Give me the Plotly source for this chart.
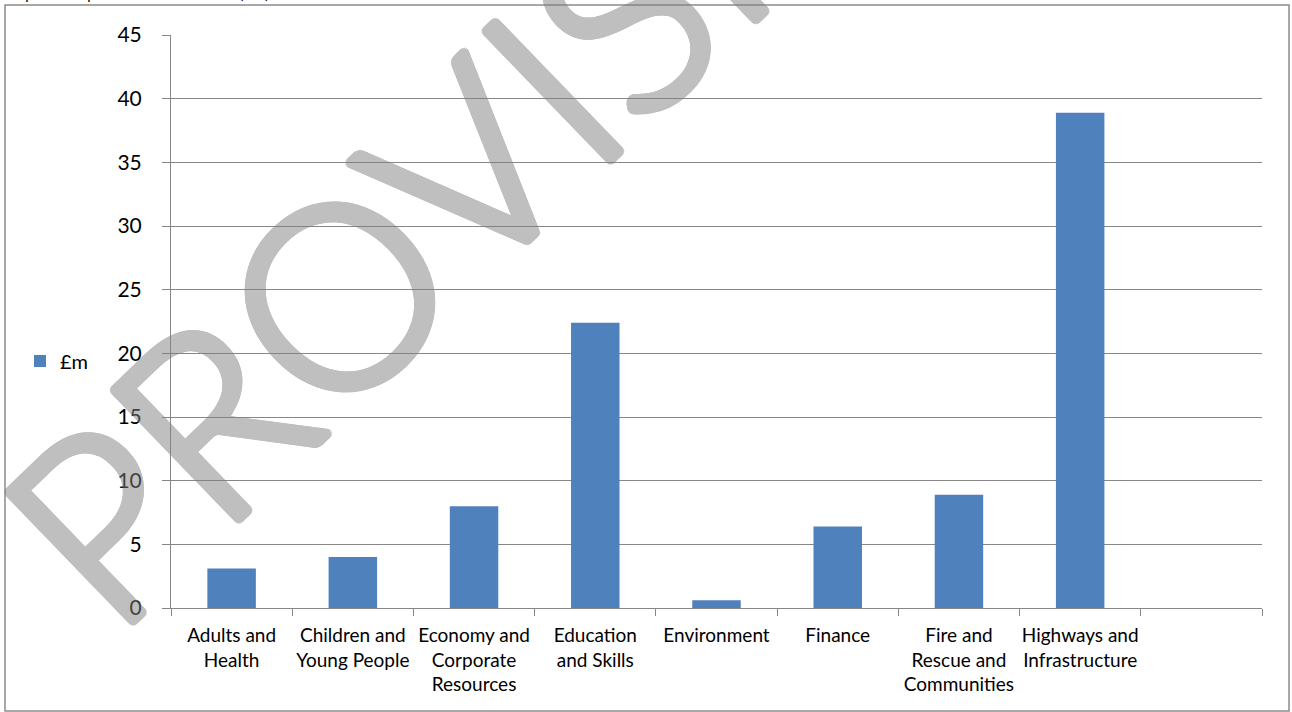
import math
import plotly.graph_objects as go

categories = [
    "Adults and<br>Health",
    "Children and<br>Young People",
    "Economy and<br>Corporate<br>Resources",
    "Education<br>and Skills",
    "Environment",
    "Finance",
    "Fire and<br>Rescue and<br>Communities",
    "Highways and<br>Infrastructure",
]
values_gbp_m = [3.1, 4.0, 8.0, 22.4, 0.6, 6.4, 8.9, 38.9]
series_name = "£m"
y_ticks = [0, 5, 10, 15, 20, 25, 30, 35, 40, 45]
watermark = "PROVISIONAL"
caption = "Graph 3 \u2013 capital outturn 2016/17 (£m)"

W, H = 1292, 712
L, R, T, B = 171, 30, 35, 104
pw, ph = W - L - R, H - T - B

def px(x):
    return (x - L) / pw

def py(y):
    return (H - B - y) / ph

FONT = "Lato"
GRID = "#878787"

x_pos = list(range(len(categories)))

fig = go.Figure()
fig.add_trace(go.Bar(
    x=x_pos, y=values_gbp_m, name=series_name,
    marker=dict(color="#4F81BD", line=dict(width=0)),
    width=0.4, showlegend=True,
))

fig.update_layout(
    width=W, height=H,
    margin=dict(l=L, r=R, t=T, b=B, pad=0),
    paper_bgcolor="white", plot_bgcolor="white",
    font=dict(family=FONT, color="black"),
    showlegend=True,
    legend=dict(
        x=px(20), y=py(361), xanchor="left", yanchor="middle",
        font=dict(size=20, family=FONT, color="black"),
        bgcolor="rgba(0,0,0,0)", borderwidth=0,
        itemwidth=30,
    ),
    xaxis=dict(
        range=[-0.5, len(categories) + 0.5],
        tickvals=x_pos, ticktext=categories,
        ticks="", showgrid=False, zeroline=False,
        showline=True, linecolor=GRID, linewidth=1,
        tickfont=dict(size=19, family=FONT, color="black"),
        ticklabelstandoff=10,
        minor=dict(tick0=-0.5, dtick=1, ticks="outside", ticklen=7,
                   tickcolor=GRID, tickwidth=1, showgrid=False),
        fixedrange=True,
    ),
    yaxis=dict(
        range=[0, 45], tickvals=y_ticks,
        ticks="outside", ticklen=8, tickcolor=GRID, tickwidth=1,
        showgrid=True, gridcolor=GRID, gridwidth=1,
        zeroline=False, showline=True, linecolor=GRID, linewidth=1,
        tickfont=dict(size=21, family=FONT, color="black"),
        ticklabelstandoff=16,
        fixedrange=True,
    ),
    bargap=0.6,
)

# outer chart frame
fig.add_shape(type="rect", xref="paper", yref="paper",
              x0=px(5), x1=px(1289), y0=py(711), y1=py(5),
              line=dict(color="#8c8c8c", width=1.5), fillcolor="rgba(0,0,0,0)",
              layer="above")

# caption above the frame (mostly cut off at top of page)
fig.add_annotation(text=caption, xref="paper", yref="paper",
                   x=px(0), y=py(4), xanchor="left", yanchor="bottom",
                   showarrow=False,
                   font=dict(size=16, family=FONT, color="black", style="italic"))

# watermark: light font thickened with a ring of text shadows, drawn semi-transparent
wm_col = "#808080"
rad = 4.5
shadow = ", ".join(
    f"{rad*math.cos(a):.2f}px {rad*math.sin(a):.2f}px 0 {wm_col}"
    for a in [i * 2 * math.pi / 16 for i in range(16)]
)
fig.add_annotation(text=watermark, xref="paper", yref="paper",
                   x=px(628), y=py(6), xanchor="center", yanchor="middle",
                   showarrow=False, textangle=-44, opacity=0.5,
                   font=dict(size=254, family=FONT, weight=300,
                             color=wm_col, shadow=shadow))

fig.write_html("out.html")
